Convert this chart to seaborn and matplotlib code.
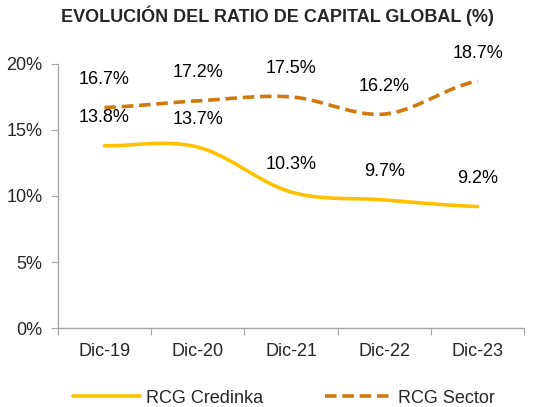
import numpy as np
import pandas as pd
import matplotlib
matplotlib.use('Agg')
import matplotlib.pyplot as plt
import seaborn as sns
from matplotlib.ticker import FixedLocator, PercentFormatter

periods = ['Dic-19', 'Dic-20', 'Dic-21', 'Dic-22', 'Dic-23']
rcg_credinka = [13.8, 13.7, 10.3, 9.7, 9.2]
rcg_sector = [16.7, 17.2, 17.5, 16.2, 18.7]

sns.set_style('white')
plt.rcParams['font.family'] = ['Liberation Sans', 'DejaVu Sans']


def smooth(xs, ys, n=30):
    # Catmull-Rom style smoothing, like the "smoothed line" option in Excel
    xs = np.asarray(xs, float)
    ys = np.asarray(ys, float)
    px = np.concatenate([[2 * xs[0] - xs[1]], xs, [2 * xs[-1] - xs[-2]]])
    py = np.concatenate([[ys[0]], ys, [ys[-1]]])
    out_x, out_y = [], []
    t = np.linspace(0, 1, n, endpoint=False)
    for i in range(1, len(px) - 2):
        for pts, out in ((px[i - 1:i + 3], out_x), (py[i - 1:i + 3], out_y)):
            a, b, c, d = pts
            out.extend(0.5 * (2 * b + (-a + c) * t + (2 * a - 5 * b + 4 * c - d) * t ** 2
                              + (-a + 3 * b - 3 * c + d) * t ** 3))
    out_x.append(xs[-1])
    out_y.append(ys[-1])
    return np.array(out_x), np.array(out_y)


pos = np.arange(len(periods))
rows = []
for name, vals in [('RCG Credinka', rcg_credinka), ('RCG Sector', rcg_sector)]:
    sx, sy = smooth(pos, vals)
    rows.append(pd.DataFrame({'x': sx, 'y': sy, 'serie': name}))
df = pd.concat(rows, ignore_index=True)

fig, ax = plt.subplots(figsize=(5.4, 4.07), dpi=100)
fig.subplots_adjust(left=0.107, right=0.971, bottom=0.194, top=0.843)

sns.lineplot(data=df, x='x', y='y', hue='serie', style='serie', sort=False,
             palette={'RCG Credinka': '#FFC000', 'RCG Sector': '#D0790D'},
             dashes={'RCG Credinka': '', 'RCG Sector': (3.2, 1.6)},
             linewidth=2.6, ax=ax)

for vals in (rcg_credinka, rcg_sector):
    for x, v in zip(pos, vals):
        ax.annotate(f'{v:.1f}%', (x, v), xytext=(0, 28), textcoords='offset pixels',
                    ha='center', va='center', fontsize=13, color='#000000',
                    annotation_clip=False)

ax.set_xlim(-0.5, len(periods) - 0.5)
ax.set_ylim(0, 20)
ax.set_yticks([0, 5, 10, 15, 20])
ax.yaxis.set_major_formatter(PercentFormatter(decimals=0))
ax.xaxis.set_major_locator(FixedLocator(np.arange(-0.5, len(periods), 1)))
ax.set_xticklabels([''] * (len(periods) + 1))
ax.xaxis.set_minor_locator(FixedLocator(pos))
ax.set_xticklabels(periods, minor=True)
ax.tick_params(axis='x', which='major', length=5, color='#A6A6A6', direction='out', bottom=True)
ax.tick_params(axis='x', which='minor', length=0, pad=11, labelsize=13)
ax.tick_params(axis='y', length=5, color='#A6A6A6', direction='out', left=True, pad=6, labelsize=13)
ax.set_xlabel('')
ax.set_ylabel('')

for s in ['top', 'right']:
    ax.spines[s].set_visible(False)
for s in ['left', 'bottom']:
    ax.spines[s].set_color('#A6A6A6')
    ax.spines[s].set_linewidth(1)

ax.set_title('EVOLUCIÓN DEL RATIO DE CAPITAL GLOBAL (%)', fontsize=13, fontweight='bold',
             x=0.47, y=1.0, pad=30)

ax.legend(title=None, loc='center', bbox_to_anchor=(0.485, -0.265), ncol=2, frameon=False,
          fontsize=13, handlelength=3.7, columnspacing=3.4, handletextpad=0.35)

fig.savefig('out.png', dpi=100)
